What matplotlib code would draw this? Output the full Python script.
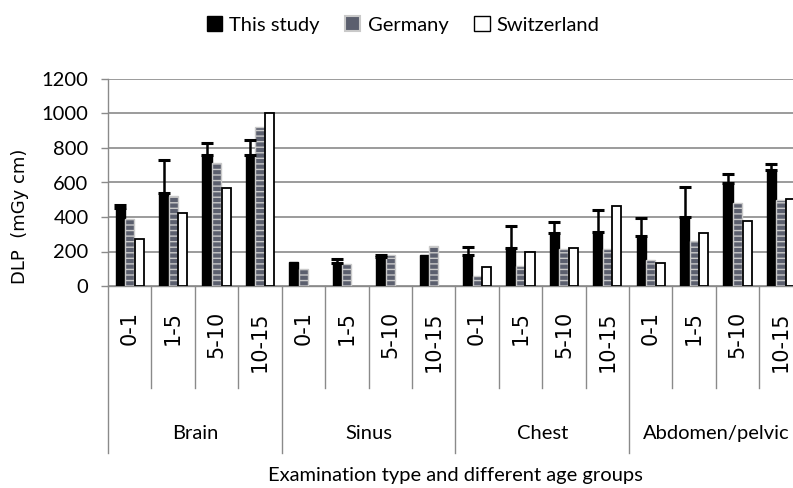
import numpy as np
import matplotlib
matplotlib.use('Agg')
import matplotlib.pyplot as plt
from matplotlib.patches import Patch
import matplotlib.transforms as mtransforms

exams = ['Brain', 'Sinus', 'Chest', 'Abdomen/pelvic']
ages = ['0-1', '1-5', '5-10', '10-15']

this_study = [450, 541, 761, 761,
              139, 135, 170, 181,
              180, 222, 305, 313,
              292, 398, 599, 672]
# upper error only, nan where no error bar is drawn
study_err = [18, 189, 66, 85,
             np.nan, 21, 8, np.nan,
             46, 128, 64, 128,
             102, 178, 48, 37]
germany = [387, 522, 715, 923,
           100, 128, 181, 232,
           56, 116, 213, 213,
           151, 261, 479, 498]
# no Swiss value for sinus
switzerland = [271, 421, 568, 1000,
               np.nan, np.nan, np.nan, np.nan,
               110, 199, 220, 464,
               131, 305, 379, 506]

fig = plt.figure(figsize=(7.93, 4.88), dpi=100)
W, H = 793, 488
left, right, bottom, top = 108, 802.7, 286, 79
ax = fig.add_axes([left / W, 1 - bottom / H, (right - left) / W, (bottom - top) / H])

n = len(this_study)
x = np.arange(n) + 0.5
bw = 0.21
off = 0.22

ax.bar(x - off, this_study, bw, color='black', edgecolor='black', zorder=3)
ax.bar(x, germany, bw, color='#5b5f6e', edgecolor='#c9c9c9', hatch='---', linewidth=1.0, zorder=3)
sw = np.array(switzerland, dtype=float)
ok = ~np.isnan(sw)
ax.bar((x + off)[ok], sw[ok], bw, color='white', edgecolor='black', linewidth=1.3, zorder=3)

err = np.array(study_err, dtype=float)
mask = ~np.isnan(err)
ax.errorbar((x - off)[mask], np.array(this_study)[mask],
            yerr=[np.zeros(mask.sum()), err[mask]],
            fmt='none', ecolor='black', elinewidth=1.8, capsize=4.5, capthick=2.2, zorder=4)

ax.set_xlim(0, n)
ax.set_ylim(0, 1200)
ax.set_yticks(range(0, 1201, 200))
ax.yaxis.grid(True, color='#8a8a8a', linewidth=1.2, zorder=0)
ax.set_axisbelow(True)
for s in ['top', 'right']:
    ax.spines[s].set_visible(False)
for s in ['left', 'bottom']:
    ax.spines[s].set_color('#8a8a8a')
    ax.spines[s].set_linewidth(1.0)
ax.tick_params(axis='y', colors='#8a8a8a', length=5, width=1.0, pad=9, labelcolor='black')
ax.set_xticks([])
for lab in ax.get_yticklabels():
    lab.set_fontfamily('Lato')
    lab.set_fontsize(14.5)

trans = mtransforms.blended_transform_factory(ax.transData, ax.transAxes)
inner_end = -(388 - bottom) / (bottom - top)
group_end = -(453 - bottom) / (bottom - top)
for i in range(n + 1):
    y_end = group_end if i % 4 == 0 else inner_end
    ax.plot([i, i], [0, y_end], transform=trans, color='#8a8a8a', lw=1.0, clip_on=False)

label_top = -(311 - bottom) / (bottom - top)
for i in range(n):
    ax.text(x[i], label_top, ages[i % 4], transform=trans, rotation=90,
            ha='center', va='top', fontsize=15, family='DejaVu Sans')

group_y = -(433 - bottom) / (bottom - top)
for g, name in enumerate(exams):
    ax.text(g * 4 + 2, group_y, name, transform=trans, ha='center', va='center',
            fontsize=14.5, family='Lato')

fig.text(455 / W, 1 - 475 / H, 'Examination type and different age groups',
         ha='center', va='center', fontsize=14.5, family='Lato')
fig.text(20 / W, 1 - 216 / H, 'DLP  (mGy cm)', rotation=90, ha='center', va='center',
         fontsize=13, family='DejaVu Sans')

handles = [Patch(facecolor='black', edgecolor='black'),
           Patch(facecolor='#5b5f6e', edgecolor='#c9c9c9', linewidth=1.5),
           Patch(facecolor='white', edgecolor='black', linewidth=1.0)]
fig.legend(handles, ['This study', 'Germany', 'Switzerland'], loc='center',
           bbox_to_anchor=(403 / W, 1 - 25 / H), ncol=3, frameon=False,
           handlelength=0.75, handleheight=0.75, handletextpad=0.35, columnspacing=1.3,
           prop={'family': 'Lato', 'size': 14.5})

fig.savefig('out.png', dpi=100)
